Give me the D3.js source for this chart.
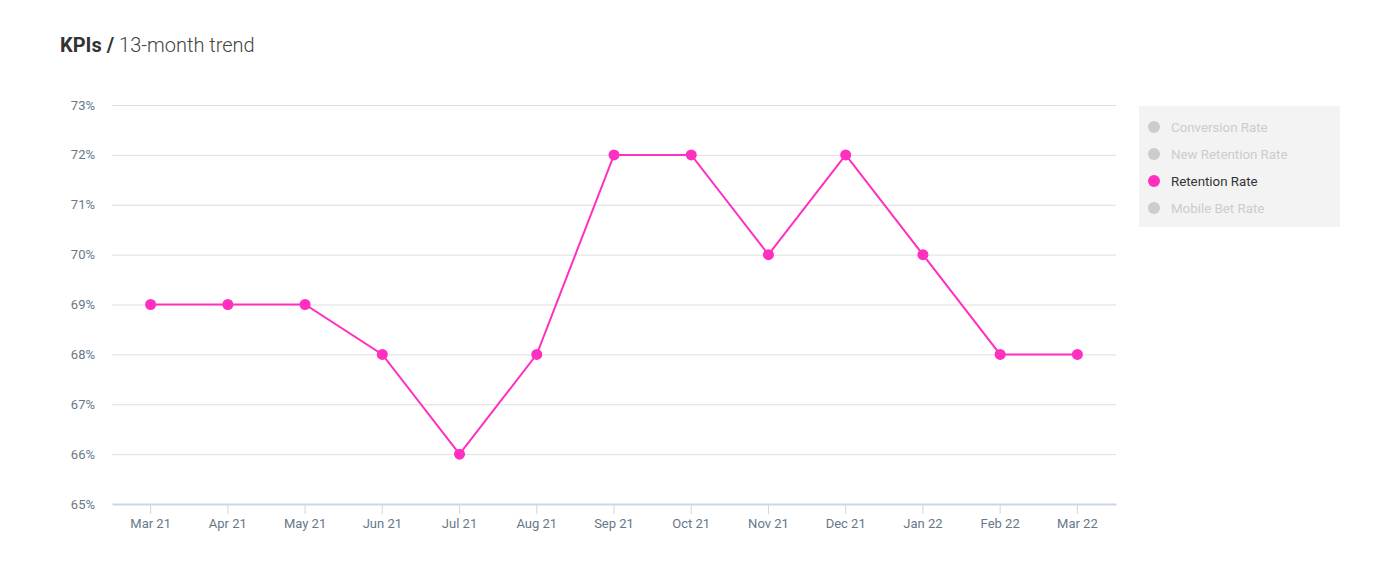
<!DOCTYPE html>
<html><head><meta charset="utf-8">
<script src="https://cdn.jsdelivr.net/npm/d3@7"></script>
<style>
body{margin:0;background:#fff;font-family:Roboto,"Open Sans",sans-serif;}
</style></head>
<body><svg id="c" width="1393" height="582"></svg>
<script>
const categories = ["Mar 21","Apr 21","May 21","Jun 21","Jul 21","Aug 21","Sep 21","Oct 21","Nov 21","Dec 21","Jan 22","Feb 22","Mar 22"];
const retentionRate = [69,69,69,68,66,68,72,72,70,72,70,68,68];
const yTicks = [65,66,67,68,69,70,71,72,73];
const legendItems = ["Conversion Rate","New Retention Rate","Retention Rate","Mobile Bet Rate"];
const activeSeries = "Retention Rate";

const svg = d3.select("#c");
const m = {l:112, r:1116, t:105, b:504};
const x = d3.scaleBand().domain(categories).range([m.l, m.r]);
const y = d3.scaleLinear().domain([65,73]).range([m.b, m.t]);
const pink = "#ff2fc0";
const labelColor = "#66788a";

// title
const t = svg.append("text").attr("x",60).attr("y",52).attr("font-size",20).attr("fill","#333");
t.append("tspan").attr("font-weight",700).text("KPIs / ");
t.append("tspan").attr("font-weight",300).attr("fill","#444").text("13-month trend");

// grid
svg.append("g").selectAll("line").data(yTicks.filter(d=>d>65)).join("line")
  .attr("x1",m.l).attr("x2",m.r).attr("y1",d=>y(d)+0.5).attr("y2",d=>y(d)+0.5)
  .attr("stroke","#dedede").attr("stroke-width",1);

// y labels
svg.append("g").selectAll("text").data(yTicks).join("text")
  .attr("x",95).attr("y",d=>y(d)+4.5).attr("text-anchor","end")
  .attr("font-size",13).attr("fill",labelColor).text(d=>d+"%");

// x axis
const xa = svg.append("g").attr("transform",`translate(0,${m.b})`)
  .call(d3.axisBottom(x).tickSize(10).tickSizeOuter(0).tickPadding(5));
xa.select(".domain").attr("stroke","#ccd6eb").attr("stroke-width",2);
xa.selectAll(".tick line").attr("stroke","#ccd6eb");
xa.selectAll(".tick text").attr("font-size",13).attr("fill",labelColor).attr("font-family","Roboto");

// line
const cx = d=>x(d)+x.bandwidth()/2;
const line = d3.line().x((d,i)=>cx(categories[i])).y(d=>y(d));
svg.append("path").datum(retentionRate).attr("d",line).attr("fill","none")
  .attr("stroke",pink).attr("stroke-width",2);
svg.append("g").selectAll("circle").data(retentionRate).join("circle")
  .attr("cx",(d,i)=>cx(categories[i])).attr("cy",d=>y(d)).attr("r",5.5).attr("fill",pink);

// legend
const lg = svg.append("g");
lg.append("rect").attr("x",1139).attr("y",106).attr("width",201).attr("height",121).attr("fill","#f3f3f3");
const li = lg.selectAll("g").data(legendItems).join("g")
  .attr("transform",(d,i)=>`translate(1154,${127+i*27})`);
li.append("circle").attr("r",6).attr("fill",d=>d===activeSeries?pink:"#cccccc");
li.append("text").attr("x",17).attr("y",4.5).attr("font-size",13.3)
  .attr("fill",d=>d===activeSeries?"#333":"#cccccc").text(d=>d);
</script></body></html>
